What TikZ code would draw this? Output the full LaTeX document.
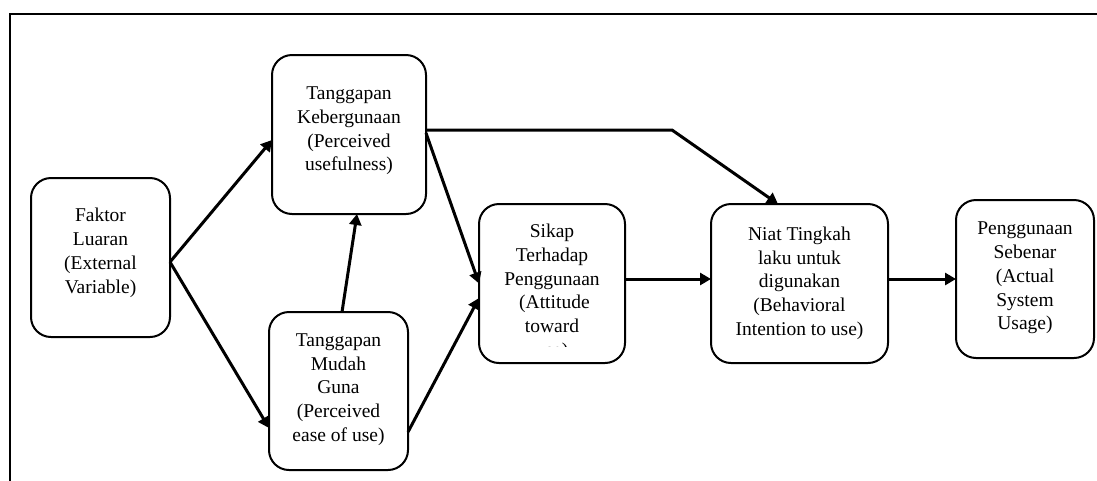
\documentclass[tikz,border=0pt]{standalone}
\usepackage{fontspec}
\setmainfont{Liberation Serif}
\usetikzlibrary{arrows.meta}
\begin{document}
\begin{tikzpicture}[x=1pt,y=-1pt,
  box/.style={draw, line width=2pt, rounded corners=20pt, inner sep=0pt, outer sep=0pt},
  lbl/.style={anchor=north, align=center, inner sep=0pt, font=\fontsize{19.5}{23.8}\selectfont},
  arr/.style={line width=3pt, -{Triangle[length=11pt,width=12pt]}},
  frame/.style={line width=2pt}]
\useasboundingbox (0,0) rectangle (1097,480);
\fill[white] (0,0) rectangle (1097,480);
\draw[frame] (10,490) -- (10,14) -- (1110,14);

% boxes
\node[box, minimum width=139pt, minimum height=159pt] (fak) at (100.5,257.5) {};
\node[box, minimum width=154pt, minimum height=159pt] (tk) at (349,134.5) {};
\node[box, minimum width=139pt, minimum height=158pt] (tmg) at (338.5,391) {};
\node[box, minimum width=146pt, minimum height=159pt] (sik) at (552,283.5) {};
\node[box, minimum width=177pt, minimum height=159pt] (niat) at (799.5,283.5) {};
\node[box, minimum width=138pt, minimum height=158pt] (ps) at (1025,279) {};

% texts
\node[lbl] (fakt) at (100.5,206.7) {\rule{0pt}{15pt}Faktor\\Luaran\\(External\\Variable)};
\node[lbl] (tkt) at (349,84.3) {\rule{0pt}{15pt}Tanggapan\\Kebergunaan\\(Perceived\\usefulness)};
\node[lbl] (tmgt) at (338.5,331) {\rule{0pt}{15pt}Tanggapan\\Mudah\\Guna\\(Perceived\\ease of use)};
\begin{scope}
  \clip (470,200) rectangle (630,346);
  \node[lbl] (sikt) at (552,222.3) {\rule{0pt}{15pt}Sikap\\Terhadap\\Penggunaan\\\hspace*{0.25em}(Attitude\\toward\\use)};
\end{scope}
\node[lbl] (niatt) at (799.5,225) {\rule{0pt}{15pt}Niat Tingkah\\laku untuk\\digunakan\\(Behavioral\\Intention to use)};
\node[lbl] (pst) at (1025,219.4) {\rule{0pt}{15pt}Penggunaan\\Sebenar\\(Actual\\System\\Usage)};

% connectors
\coordinate (bend) at (672,130);
\draw[arr] ([yshift=-4.5pt]fak.east) -- ([yshift=-5.5pt]tk.west);
\draw[arr] ([yshift=-4.5pt]fak.east) -- ([yshift=-37pt]tmg.west);
\draw[arr] ([xshift=3.5pt]tmg.north) -- ([xshift=8pt]tk.south);
\draw[arr] ([yshift=1.5pt]tk.east) -- (sik.west);
\draw[arr] ([yshift=-41pt]tmg.east) -- ([yshift=-14.5pt]sik.west);
\draw[arr] (tk.east |- bend) -- (bend) -- ([xshift=-21.5pt]niat.north);
\draw[arr] ([yshift=4.5pt]sik.east) -- ([yshift=4.5pt]niat.west);
\draw[arr] ([yshift=4.5pt]niat.east) -- (ps.west);
\end{tikzpicture}
\end{document}
